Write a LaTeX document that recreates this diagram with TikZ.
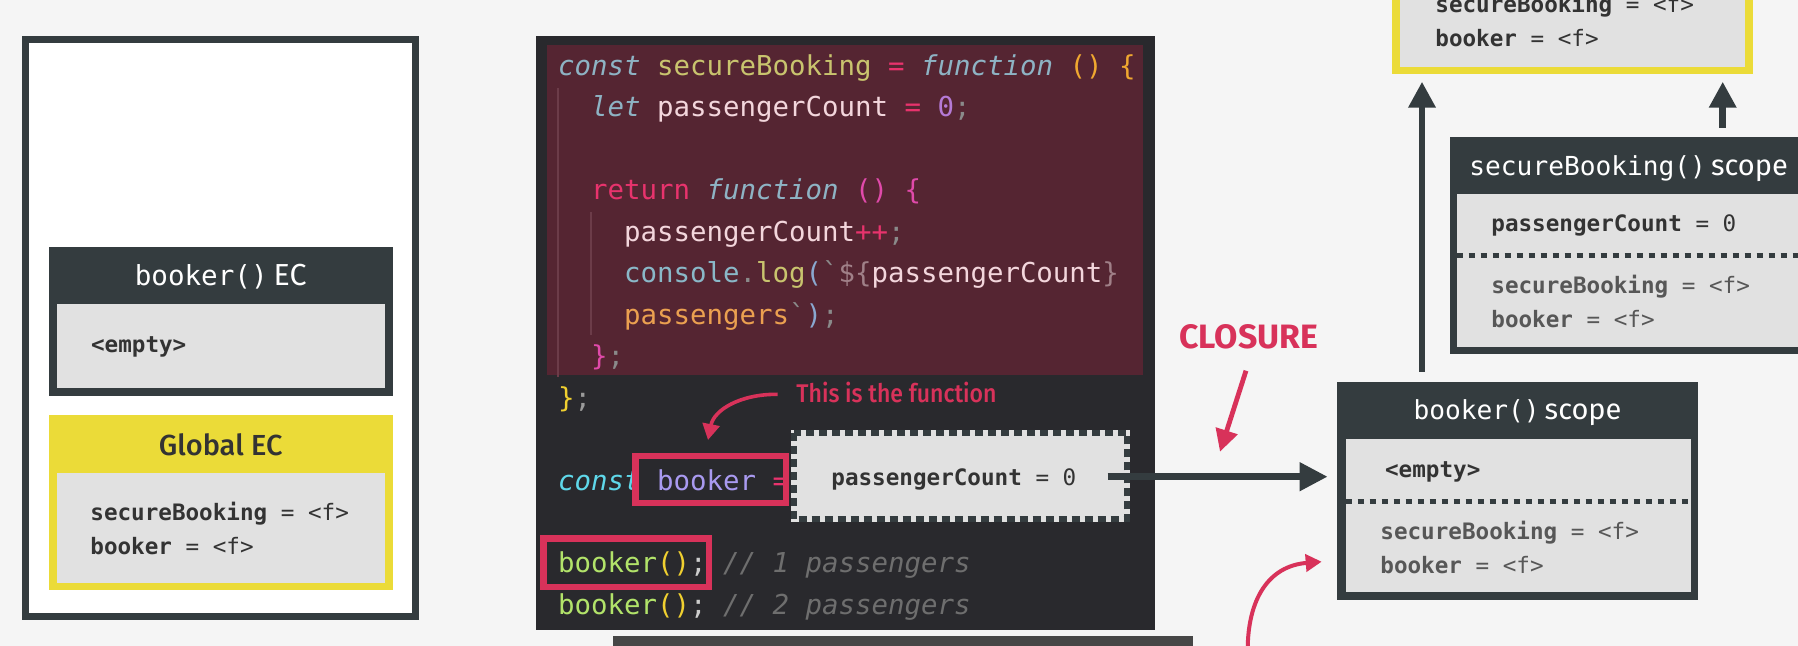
\documentclass[tikz,border=0pt]{standalone}
\usepackage{fontspec}
\usepackage{xcolor}
\usetikzlibrary{arrows.meta,fit,calc}
\defaultfontfeatures{}
\newfontfamily\codef{DejaVu Sans Mono}
\defaultfontfeatures{Ligatures=TeX}
\newfontfamily\sansf{Fira Sans}
\IfFontExistsTF{Fira Sans Medium}{\newfontfamily\sansm{Fira Sans Medium}\newfontfamily\sansmc[FakeStretch=0.9]{Fira Sans Medium}}{\newfontfamily\sansm{Fira Sans}\newfontfamily\sansmc[FakeStretch=0.9]{Fira Sans}}
\definecolor{bg}{HTML}{F5F5F5}
\definecolor{slate}{HTML}{343C3F}
\definecolor{boxgray}{HTML}{E1E1E1}
\definecolor{yel}{HTML}{EBDB38}
\definecolor{crim}{HTML}{D8325A}
\definecolor{codebg}{HTML}{29292D}
\definecolor{maroonbg}{HTML}{552532}
\definecolor{guide}{HTML}{6C3C49}
\definecolor{txt}{HTML}{333333}
\definecolor{txtg}{HTML}{575757}
\definecolor{barg}{HTML}{464646}
\newcommand\cc[2]{\textcolor[HTML]{#1}{#2}}
\begin{document}
\begin{tikzpicture}[x=0.5pt,y=-0.5pt,
  panel/.style={inner sep=0pt, draw=none},
  code/.style={anchor=base west, inner sep=0pt, font=\codef\fontsize{13.7}{16}\selectfont},
  boxtxt/.style={anchor=base west, inner sep=0pt, font=\codef\fontsize{11.3}{14}\selectfont, text=txt},
  boxtxtg/.style={boxtxt, text=txtg},
  title/.style={anchor=base, inner sep=0pt, text=white},
  bigarrow/.style={line width=3.3pt, draw=slate, -{Triangle[length=13pt,width=13pt]}},
  redarrow/.style={line width=1.8pt, draw=crim, -{Triangle[length=8pt,width=8.5pt]}},
  dotline/.style={draw=slate, line width=2.5pt, dash pattern=on 3pt off 3pt},
  redbox/.style={draw=crim, line width=3.25pt}
]
\useasboundingbox (0,0) rectangle (1798,646);
\clip (0,0) rectangle (1798,646);
\fill[bg] (0,0) rectangle (1798,646);

% ---------- left panel ----------
\node[panel, fit={(25.5,39.5) (415.5,616.5)}, draw=slate, line width=3.5pt, fill=white] (frame) {};
\node[panel, fit={(48.7,247) (392.7,396)}, fill=slate] (bec) {};
\node[panel, fit={(56.7,304) (385,388)}, fill=boxgray] (becin) {};
\node[title] (bectitle) at (220.7,286) {\codef\fontsize{13.8}{16}\selectfont booker()\hspace{3pt}{\sansf\fontsize{15.2}{17}\selectfont EC}};
\node[boxtxt] (becempty) at (90.7,353) {\bfseries <empty>};

\node[panel, fit={(48.7,415) (392.7,590)}, fill=yel] (gec) {};
\node[panel, fit={(56.7,473) (385,583)}, fill=boxgray] (gecin) {};
\node[title, text=txt] (gectitle) at (220.7,455) {\sansm\fontsize{14.5}{17}\selectfont Global EC};
\node[boxtxt] (gect1) at (90,520) {\textbf{secureBooking} = <f>};
\node[boxtxt] (gect2) at (90,554) {\textbf{booker} = <f>};

% ---------- code panel ----------
\node[panel, fit={(535.7,36) (1154.5,630)}, fill=codebg] (codepanel) {};
\node[panel, fit={(547,45) (1143,375)}, fill=maroonbg] (sbfun) {};
\draw[guide, line width=0.8pt] (558,88) -- (558,377);
\draw[guide, line width=0.8pt] (591,212) -- (591,335);

\node[code] (l1) at (557.8,75.5) {\cc{8EB3C4}{\itshape const}~\cc{C9C46E}{secureBooking}~\cc{E8336D}{=}~\cc{8EB3C4}{\itshape function}~\cc{F0A830}{()}~\cc{F0A830}{\{}};
\node[code] (l2) at (590.7,117) {\cc{8EB3C4}{\itshape let}~\cc{F3D6DC}{passengerCount}~\cc{E8336D}{=}~\cc{B57AD6}{0}\cc{8A8A8A}{;}};
\node[code] (l4) at (590.7,200) {\cc{E8336D}{return}~\cc{8EB3C4}{\itshape function}~\cc{E04AAA}{()}~\cc{E04AAA}{\{}};
\node[code] (l5) at (623.7,241.5) {\cc{F3D6DC}{passengerCount}\cc{E8336D}{++}\cc{8A8A8A}{;}};
\node[code] (l6) at (623.7,283) {\cc{8AB8C8}{console}\cc{8A8A8A}{.}\cc{C9C46E}{log}\cc{8AA8D0}{(}\cc{8A8A8A}{`}\cc{A08088}{\$\{}\cc{F3D6DC}{passengerCount}\cc{A08088}{\}}};
\node[code] (l7) at (623.7,324.5) {\cc{EBA050}{passengers}\cc{8A8A8A}{`}\cc{8AA8D0}{)}\cc{8A8A8A}{;}};
\node[code] (l8) at (590.7,366) {\cc{E04AAA}{\}}\cc{8A8A8A}{;}};
\node[code] (l9) at (557.8,407.5) {\cc{F0D030}{\}}\cc{9A9A9A}{;}};
\node[code] (l11) at (557.8,490) {\cc{5FD8EA}{\itshape const}~\cc{A99AF0}{booker}~\cc{E8336D}{=}};
\node[code] (l13) at (557.8,572.5) {\cc{B2E36A}{booker}\cc{F0D030}{()}\cc{CCCCCC}{;}~\cc{6E6E6E}{\itshape // 1 passengers}};
\node[code] (l14) at (557.8,614.5) {\cc{B2E36A}{booker}\cc{F0D030}{()}\cc{CCCCCC}{;}~\cc{6E6E6E}{\itshape // 2 passengers}};

\node[panel, fit={(635.25,456) (785.75,502.8)}, redbox] (rbox1) {};
\node[panel, fit={(543.25,538.25) (708.75,586.75)}, redbox] (rbox2) {};

\node[panel, fit={(791,430) (1130,521.7)}, fill=boxgray] (closbox) {};
\draw[slate, line width=3.2pt, dash pattern=on 4pt off 2.5pt] ([xshift=1.6pt,yshift=-1.6pt]closbox.north west) rectangle ([xshift=-1.6pt,yshift=1.6pt]closbox.south east);
\node[boxtxt] (closvar) at (831,485) {\textbf{passengerCount} = 0};

\node[anchor=base west, inner sep=0pt, text=crim, font=\sansmc\fontsize{12.8}{15}\selectfont] (thisfn) at (796,402.7) {This is the function};
\coordinate (fa1) at (777.7,394.3);
\coordinate (fa2) at (708,440);
\draw[redarrow] (fa1) .. controls (740,394) and (714,410) .. (fa2);

\fill[barg] (613,636) rectangle (1192.5,650);

% ---------- right side ----------
\node[panel, fit={(1392,-20) (1752.5,74)}, fill=yel] (gscope) {};
\node[panel, fit={(1400.4,-20) (1745,66.7)}, fill=boxgray] (gscopein) {};
\node[boxtxt] (gs1) at (1435,13) {\textbf{secureBooking} = <f>};
\node[boxtxt] (gs2) at (1435,47) {\textbf{booker} = <f>};

\node[panel, fit={(1449.6,136.7) (1850,354)}, fill=slate] (sbscope) {};
\node[panel, fit={(1456.6,194.3) (1850,346.7)}, fill=boxgray] (sbscopein) {};
\node[title, anchor=base west] (sbtitle) at (1469,175.5) {\codef\fontsize{13.1}{16}\selectfont secureBooking()\hspace{2.5pt}{\sansf\fontsize{14.5}{17}\selectfont scope}};
\node[boxtxt] (sbv1) at (1491,232) {\textbf{passengerCount} = 0};
\draw[dotline] (1456.6,256) -- (1800,256);
\node[boxtxtg] (sbv2) at (1491,293.7) {\textbf{secureBooking} = <f>};
\node[boxtxtg] (sbv3) at (1491,328) {\textbf{booker} = <f>};

\node[panel, fit={(1337,381.7) (1698,600)}, fill=slate] (bscope) {};
\node[panel, fit={(1345.5,439) (1690.5,591.7)}, fill=boxgray] (bscopein) {};
\node[title] (btitle) at (1517.5,420) {\codef\fontsize{13.1}{16}\selectfont booker()\hspace{2.5pt}{\sansf\fontsize{14.5}{17}\selectfont scope}};
\node[boxtxt] (bv1) at (1384.7,477) {\bfseries <empty>};
\draw[dotline] (1345.5,501) -- (1690.5,501);
\node[boxtxtg] (bv2) at (1380,539.7) {\textbf{secureBooking} = <f>};
\node[boxtxtg] (bv3) at (1380,573) {\textbf{booker} = <f>};

% ---------- arrows ----------
\coordinate (h1) at (1107.5,476.7);
\coordinate (h2) at (1327.7,476.7);
\draw[bigarrow, line width=3.5pt, -{Triangle[length=14pt,width=13.5pt]}] (h1) -- (h2);

\coordinate (u1s) at (1422,371.7);
\coordinate (u1e) at (1422,81.7);
\draw[bigarrow] (u1s) -- (u1e);
\coordinate (u2s) at (1722.7,128);
\coordinate (u2e) at (1722.7,81.7);
\draw[bigarrow] (u2s) -- (u2e);

\node[anchor=base west, inner sep=0pt, text=crim, font=\sansf\bfseries\fontsize{16.9}{20}\selectfont] (closure) at (1179,348.3) {CLOSURE};
\coordinate (c1) at (1246,370.7);
\coordinate (c2) at (1220,451.7);
\draw[redarrow, line width=2.4pt, -{Triangle[length=11pt,width=11pt]}] (c1) -- (c2);

\coordinate (b1) at (1247.7,650);
\coordinate (b2) at (1321.7,561.7);
\draw[redarrow, line width=2pt] (b1) .. controls (1247.7,600) and (1268,566) .. (b2);
\end{tikzpicture}
\end{document}
